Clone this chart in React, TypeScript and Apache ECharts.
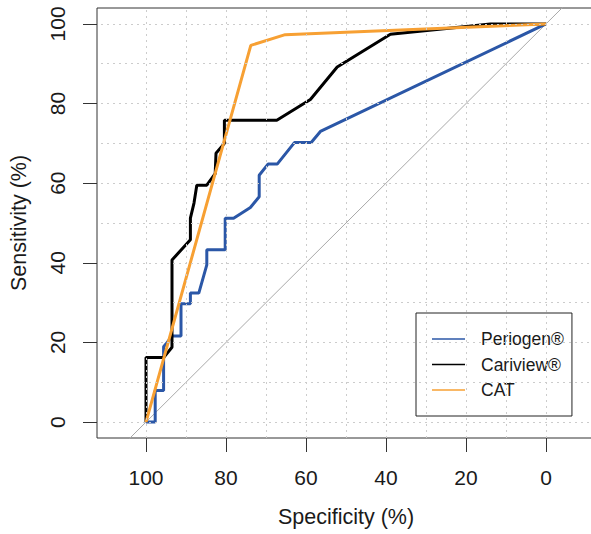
import React, { useEffect, useRef } from "react";
import * as echarts from "echarts";

// Axis tick labels and grid positions
const tickValues = [0, 20, 40, 60, 80, 100];
const gridValues = [0, 10, 20, 30, 40, 50, 60, 70, 80, 90, 100];
const xRange = [-12.25, 112.25];
const yRange = [-4, 104];

const seriesNames = ["Periogen®", "Cariview®", "CAT"];
const seriesColors = ["#2B57A7", "#000000", "#F7A033"];

// Periogen® ROC (specificity %, sensitivity %)
const periogenSpec = [100, 97.7, 97.7, 95.6, 95.6, 94.7, 93.5, 91.25, 91.25, 88.9, 88.9, 86.8, 84.8, 84.8, 80.2, 80.2, 78.1, 73.9, 71.7, 71.7, 69.5, 67.2, 62.9, 58.7, 56.4, 0];
const periogenSens = [0, 0, 7.9, 7.9, 18.9, 20.0, 21.6, 21.6, 29.7, 29.7, 32.4, 32.4, 39.5, 43.3, 43.3, 51.2, 51.2, 53.9, 56.6, 62.0, 64.8, 64.8, 70.2, 70.2, 73.0, 100];

// Cariview® ROC
const cariviewSpec = [100, 100, 95.6, 93.5, 93.5, 88.9, 88.9, 88.0, 87.3, 84.8, 82.7, 82.5, 80.4, 80.4, 67.3, 58.9, 52.2, 38.9, 13.9, 0];
const cariviewSens = [0, 16.2, 16.2, 18.8, 40.7, 45.8, 51.2, 55.0, 59.5, 59.5, 62.4, 67.5, 70.0, 75.8, 75.8, 81.0, 89.2, 97.4, 100, 100];

// CAT ROC
const catSpec = [100, 73.8, 65.2, 0];
const catSens = [0, 94.6, 97.3, 100];

const pairs = (a: number[], b: number[]) => a.map((v, i) => [v, b[i]]);

export default function App() {
  const ref = useRef<HTMLDivElement>(null);
  useEffect(() => {
    const chart = echarts.init(ref.current!, null, { renderer: "svg" });
    const font = "'Liberation Sans', Arial, sans-serif";
    const identity = xRange.map((x) => [x, 100 - x]);
    const curves = [
      pairs(periogenSpec, periogenSens),
      pairs(cariviewSpec, cariviewSens),
      pairs(catSpec, catSens),
    ];
    chart.setOption({
      animation: false,
      textStyle: { fontFamily: font },
      grid: {
        left: 97,
        top: 8,
        width: 498,
        height: 430,
        show: true,
        borderColor: "#333",
        borderWidth: 1,
        backgroundColor: "transparent",
      },
      xAxis: {
        type: "value",
        min: xRange[0],
        max: xRange[1],
        inverse: true,
        axisLine: { show: false, onZero: false },
        splitLine: { show: false },
        axisTick: { show: true, customValues: tickValues, length: 14, lineStyle: { color: "#333" } },
        axisLabel: { customValues: tickValues, margin: 29, fontSize: 21, color: "#1a1a1a", fontFamily: font },
        name: "Specificity (%)",
        nameLocation: "middle",
        nameGap: 68,
        nameTextStyle: { fontSize: 21.5, color: "#1a1a1a", fontFamily: font },
      },
      yAxis: {
        type: "value",
        min: yRange[0],
        max: yRange[1],
        axisLine: { show: false, onZero: false },
        splitLine: { show: false },
        axisTick: { show: true, customValues: tickValues, length: 14, lineStyle: { color: "#333" } },
        axisLabel: { customValues: tickValues, rotate: 90, margin: 29, fontSize: 21, color: "#1a1a1a", fontFamily: font },
        name: "Sensitivity (%)",
        nameLocation: "middle",
        nameGap: 67,
        nameTextStyle: { fontSize: 21.5, color: "#1a1a1a", fontFamily: font },
      },
      legend: {
        data: seriesNames,
        orient: "vertical",
        left: 416,
        top: 313,
        padding: [16, 8, 16, 16],
        itemGap: 5.5,
        itemWidth: 33,
        itemHeight: 1.5,
        icon: "rect",
        backgroundColor: "#fff",
        borderColor: "#222",
        borderWidth: 1,
        borderRadius: 0,
        selectedMode: false,
        textStyle: { fontSize: 17.5, lineHeight: 20, color: "#1a1a1a", fontFamily: font, padding: [0, 0, 0, 11] },
      },
      series: [
        {
          name: "identity",
          type: "line",
          data: identity,
          symbol: "none",
          clip: true,
          silent: true,
          lineStyle: { color: "#A9A9A9", width: 1 },
          emphasis: { disabled: true },
          z: 1,
          markLine: {
            silent: true,
            symbol: ["none", "none"],
            label: { show: false },
            lineStyle: { color: "#CCCCCC", type: [2, 4], width: 1 },
            emphasis: { disabled: true },
            data: [
              ...gridValues.map((v) => ({ xAxis: v })),
              ...gridValues.map((v) => ({ yAxis: v })),
            ],
          },
        },
        ...curves.map((d, i) => ({
          name: seriesNames[i],
          type: "line",
          data: d,
          symbol: "none",
          clip: true,
          color: seriesColors[i],
          lineStyle: { color: seriesColors[i], width: 3 },
          emphasis: { disabled: true },
          z: 2 + i,
        })),
      ],
    });
    return () => chart.dispose();
  }, []);
  return (
    <div style={{ position: "absolute", left: 0, top: 0, width: 591, height: 534, overflow: "hidden" }}>
      <div ref={ref} style={{ width: 610, height: 534 }} />
    </div>
  );
}
